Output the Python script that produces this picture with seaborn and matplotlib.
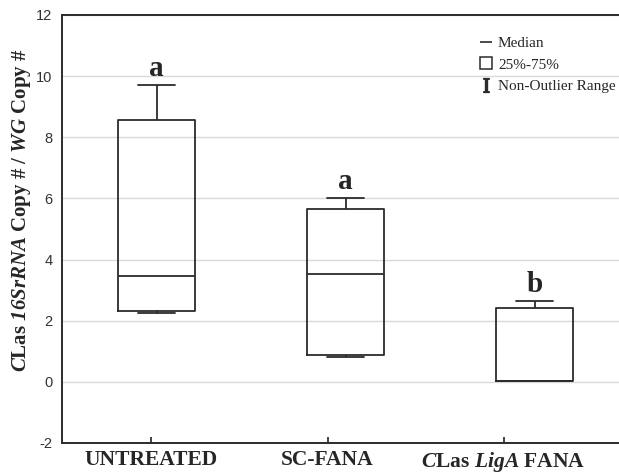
import matplotlib
matplotlib.use("Agg")
import matplotlib.pyplot as plt
import seaborn as sns
import pandas as pd
from matplotlib.lines import Line2D

# ---- data ----
groups = ["UNTREATED", "SC-FANA", "CLas LigA FANA"]
tick_labels = ["UNTREATED", "SC-FANA", r"$\mathrm{C}$Las $\mathrm{LigA}$ FANA"]
whisker_low = [2.24, 0.81, 0.03]
q1 = [2.31, 0.88, 0.03]
median = [3.46, 3.53, 0.03]
q3 = [8.57, 5.65, 2.43]
whisker_high = [9.71, 6.00, 2.65]
letters = ["a", "a", "b"]
y_ticks = [-2, 0, 2, 4, 6, 8, 10, 12]

sns.set_theme(style="white")
plt.rcParams["font.family"] = ["Liberation Serif", "DejaVu Serif"]
plt.rcParams["axes.unicode_minus"] = False
plt.rcParams["mathtext.fontset"] = "custom"
# italic-bold parts of labels are written with \mathrm (digits included)
plt.rcParams["mathtext.rm"] = "Liberation Serif:italic:bold"
plt.rcParams["mathtext.it"] = "Liberation Serif:italic:bold"
plt.rcParams["mathtext.bf"] = "Liberation Serif:bold"
plt.rcParams["mathtext.sf"] = "Liberation Serif"

rows = []
for g, a, b, c, d, e in zip(groups, whisker_low, q1, median, q3, whisker_high):
    for v in (a, b, c, d, e):
        rows.append({"group": g, "value": v})
df = pd.DataFrame(rows)

W, H = 619, 474
fig = plt.figure(figsize=(W / 100, H / 100), dpi=100)
ax = fig.add_axes([62 / W, 31 / H, 567 / W, 428 / H])

dark = "#2b2b2b"
sns.boxplot(data=df, x="group", y="value", order=groups, ax=ax,
            width=0.41, fill=False, color=dark, linewidth=1.3,
            whis=(0, 100), showfliers=False, capwidths=0.2,
            medianprops=dict(color=dark, linewidth=1.3))

ax.set_xlim(-0.5, 2.5)
ax.set_ylim(-2, 12)
ax.set_yticks(y_ticks)
ax.yaxis.grid(True, color="#d9d9d9", linewidth=1.0)
ax.set_axisbelow(True)
for lab in ax.get_yticklabels():
    lab.set_fontfamily("Liberation Sans")
ax.tick_params(axis="y", length=0, pad=7, labelsize=10.5, labelcolor="#333333")

tick_pos = [-0.03, 0.905, 1.836]
ax.set_xticks(tick_pos)
ax.set_xticklabels(tick_labels, fontsize=15.5, fontweight="bold")
ax.tick_params(axis="x", direction="in", length=4, color=dark, pad=5, bottom=True)

for s in ["left", "bottom", "top"]:
    ax.spines[s].set_color(dark)
    ax.spines[s].set_linewidth(1.4)
ax.spines["right"].set_visible(False)

ax.set_xlabel("")
ax.set_ylabel(r"$\mathrm{C}$Las $\mathrm{16SrRNA}$ Copy # / $\mathrm{WG}$ Copy #",
              fontsize=15, fontweight="bold")
ax.yaxis.set_label_coords(-0.051, 0.544)

for i, (letter, top) in enumerate(zip(letters, whisker_high)):
    ax.text(i, top + 0.55, letter, ha="center", va="center",
            fontsize=21, fontweight="bold")

handles = [
    Line2D([], [], color=dark, marker="_", ls="none", markersize=9, markeredgewidth=1.2),
    Line2D([], [], color=dark, marker="s", ls="none", markersize=9,
           markerfacecolor="none", markeredgewidth=1.1),
    Line2D([], [], color=dark, marker=r"$\mathsf{I}$", ls="none", markersize=10),
]
fig.legend(handles, ["Median", "25%-75%", "Non-Outlier Range"],
           loc="upper left", bbox_to_anchor=(472 / W, 1 - 29 / H),
           frameon=False, borderpad=0, handlelength=0.8, handletextpad=0.4,
           labelspacing=0.5, prop={"family": "Liberation Serif", "size": 11})

fig.savefig("out.png", dpi=100)
